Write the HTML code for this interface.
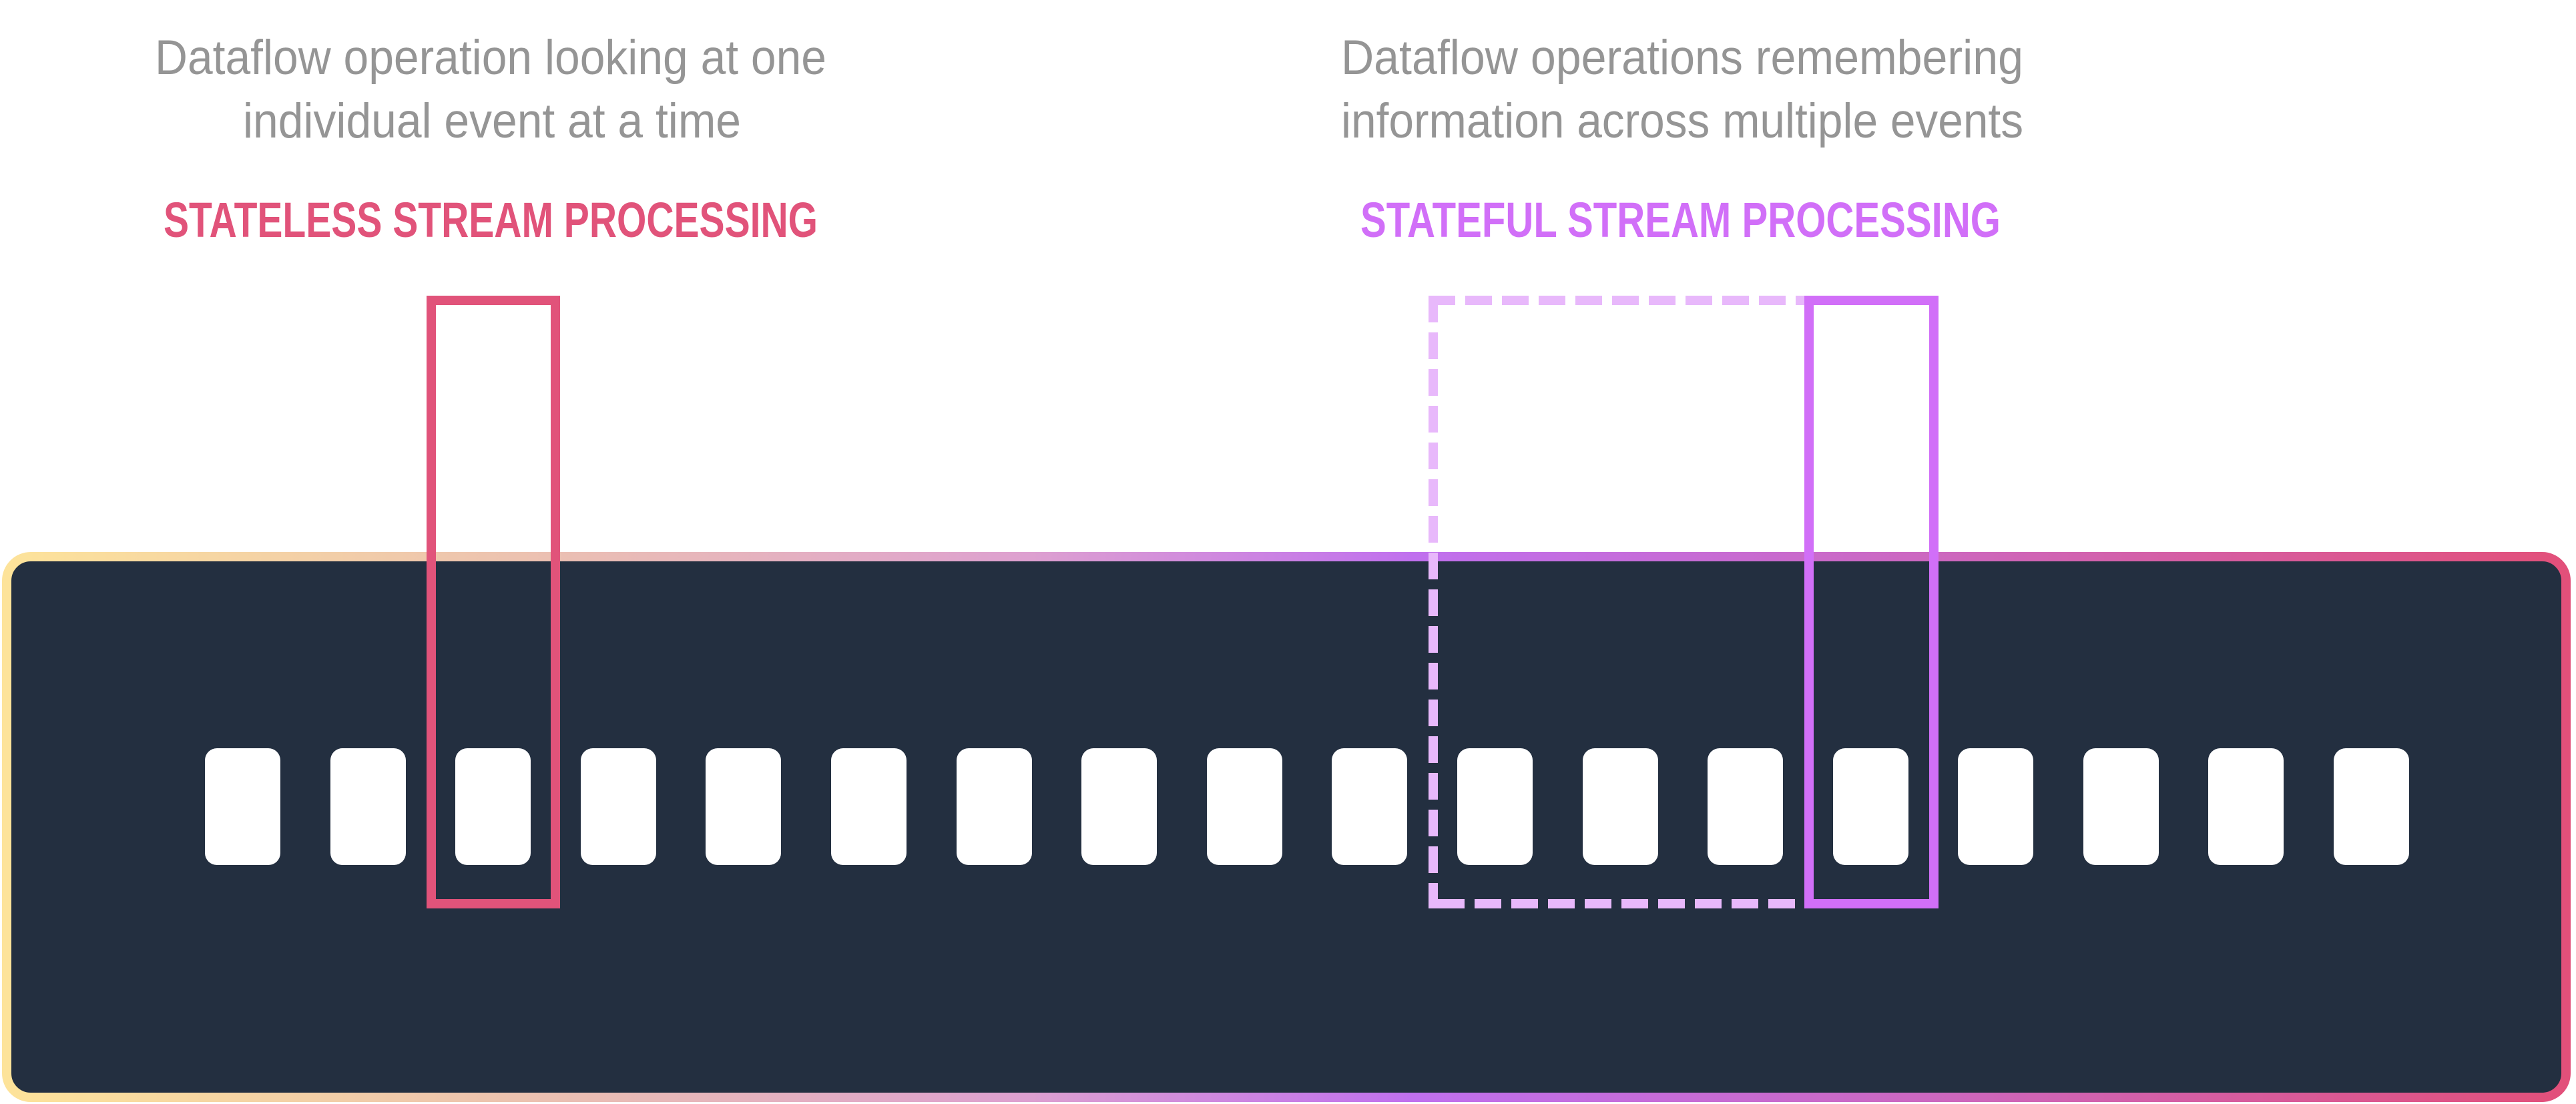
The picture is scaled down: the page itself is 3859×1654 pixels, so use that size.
<!DOCTYPE html>
<html><head><meta charset="utf-8"><style>
html,body{margin:0;padding:0;background:#fff;}
svg{display:block;}
</style></head><body>
<svg width="3859" height="1654" viewBox="0 0 3859 1654" xmlns="http://www.w3.org/2000/svg">
<defs>
<linearGradient id="bg" x1="0" y1="0" x2="1" y2="0">
<stop offset="0" stop-color="#FDE39A"/>
<stop offset="0.2" stop-color="#ECC2B0"/>
<stop offset="0.4" stop-color="#DDA0D0"/>
<stop offset="0.55" stop-color="#C070EE"/>
<stop offset="0.75" stop-color="#CC68C0"/>
<stop offset="1" stop-color="#E2507A"/>
</linearGradient>
</defs>
<rect x="10" y="834" width="3834" height="810" rx="36" fill="#232F40" stroke="url(#bg)" stroke-width="14"/>
<g fill="#FFFFFF">
<rect x="307" y="1121" width="113" height="175" rx="18"/>
<rect x="495" y="1121" width="113" height="175" rx="18"/>
<rect x="682" y="1121" width="113" height="175" rx="18"/>
<rect x="870" y="1121" width="113" height="175" rx="18"/>
<rect x="1057" y="1121" width="113" height="175" rx="18"/>
<rect x="1245" y="1121" width="113" height="175" rx="18"/>
<rect x="1433" y="1121" width="113" height="175" rx="18"/>
<rect x="1620" y="1121" width="113" height="175" rx="18"/>
<rect x="1808" y="1121" width="113" height="175" rx="18"/>
<rect x="1995" y="1121" width="113" height="175" rx="18"/>
<rect x="2183" y="1121" width="113" height="175" rx="18"/>
<rect x="2371" y="1121" width="113" height="175" rx="18"/>
<rect x="2558" y="1121" width="113" height="175" rx="18"/>
<rect x="2746" y="1121" width="113" height="175" rx="18"/>
<rect x="2933" y="1121" width="113" height="175" rx="18"/>
<rect x="3121" y="1121" width="113" height="175" rx="18"/>
<rect x="3308" y="1121" width="113" height="175" rx="18"/>
<rect x="3496" y="1121" width="113" height="175" rx="18"/>
</g>
<rect x="646" y="450" width="186" height="904" fill="none" stroke="#E1537A" stroke-width="14"/>
<g stroke="#E8B8FB" stroke-width="14" fill="none" stroke-dasharray="40 15">
<line x1="2140" y1="450" x2="2703" y2="450"/>
<line x1="2147" y1="443" x2="2147" y2="1361"/>
<line x1="2154" y1="1354" x2="2703" y2="1354"/>
</g>
<rect x="2710" y="450" width="187" height="904" fill="none" stroke="#D16FF8" stroke-width="14"/>
<g font-family="'Liberation Sans', sans-serif" font-size="73" fill="#959595">
<text x="232" y="111" textLength="1006" lengthAdjust="spacingAndGlyphs">Dataflow operation looking at one</text>
<text x="364" y="206" textLength="746" lengthAdjust="spacingAndGlyphs">individual event at a time</text>
<text x="2009" y="111" textLength="1022" lengthAdjust="spacingAndGlyphs">Dataflow operations remembering</text>
<text x="2009" y="206" textLength="1022" lengthAdjust="spacingAndGlyphs">information across multiple events</text>
</g>
<g font-family="'Liberation Sans', sans-serif" font-size="74" font-weight="bold">
<text x="245" y="355" fill="#E1537A" textLength="980" lengthAdjust="spacingAndGlyphs">STATELESS STREAM PROCESSING</text>
<text x="2038" y="355" fill="#D16FF8" textLength="959" lengthAdjust="spacingAndGlyphs">STATEFUL STREAM PROCESSING</text>
</g>
</svg>
</body></html>
